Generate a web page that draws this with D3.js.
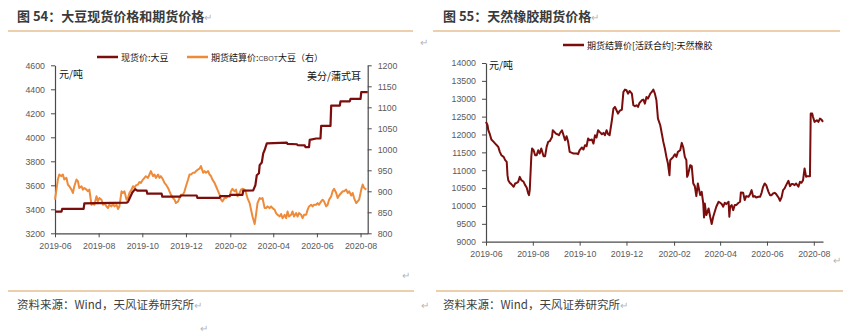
<!DOCTYPE html>
<html><head><meta charset="utf-8">
<script src="https://cdn.jsdelivr.net/npm/d3@7"></script>
<style>
body{margin:0;background:#fff;}
svg{display:block;}
text{font-family:"Noto Sans CJK SC","Liberation Sans",sans-serif;}
.tick text{font-family:"Liberation Sans","Noto Sans CJK SC",sans-serif;}
</style></head><body>
<svg id="c" width="867" height="336"></svg>
<script>
// ---------------- data ----------------
const xTickLabels = ["2019-06","2019-08","2019-10","2019-12","2020-02","2020-04","2020-06","2020-08"];
const soyLeftTicks = [3200,3400,3600,3800,4000,4200,4400,4600];
const soyRightTicks = [800,850,900,950,1000,1050,1100,1150,1200];
const rubberTicks = [9000,9500,10000,10500,11000,11500,12000,12500,13000,13500,14000];

// 现货价:大豆 (days since 2019-06-01)
const spotDay = [0,9,10,40,41,100,102,105,108,112,115,128,129,149,150,175,176,198,199,230,231,244,245,262,263,277,280,282,285,286,289,291,293,296,324,325,338,339,349,350,355,356,365,371,372,385,386,398,399,412,413,427,428,437];
const spotPrice = [3380,3380,3403,3403,3450,3455,3462,3500,3540,3568,3555,3555,3530,3530,3505,3505,3515,3515,3495,3495,3510,3510,3520,3520,3555,3558,3600,3684,3700,3768,3790,3866,3894,3950,3956,3945,3942,3935,3932,3918,3918,3978,3990,3990,4095,4095,4264,4264,4300,4300,4320,4320,4376,4376];

// 期货结算价:CBOT大豆, sampled evenly from 2019-06-01 to 2020-08-10
const cbotFirstDay = 0, cbotLastDay = 435;
const cbotPrice = [880,904,928,940,936,940,928,932,916,912,904,896,912,928,924,908,912,904,908,904,900,904,868,872,868,888,876,884,880,868,872,864,860,868,864,872,864,868,858,864,900,896,900,880,884,896,904,912,908,914,916,922,920,928,932,936,932,940,948,936,940,932,940,932,936,928,920,916,908,900,892,884,880,872,876,884,892,892,900,912,928,940,940,944,944,948,952,954,960,944,948,944,948,940,936,928,920,912,904,892,880,876,884,884,888,888,900,906,900,904,888,896,904,906,904,896,884,872,856,840,822,845,872,884,882,884,860,860,864,860,864,860,856,848,844,840,846,836,844,836,852,840,844,852,840,848,840,848,844,836,844,844,856,864,868,864,868,868,872,868,876,880,876,864,868,880,888,900,906,896,884,890,896,900,900,904,896,900,890,896,884,872,876,880,904,916,908,904];

// 期货结算价[活跃合约]:天然橡胶 (days since 2019-06-01)
const rubberDay = [0,2,3,5,7,10,12,14,16,18,20,23,25,27,28,29,31,33,36,38,40,42,44,46,49,51,53,55,56,57,59,60,62,64,66,68,70,72,75,77,79,81,83,86,87,89,91,93,95,96,99,101,103,105,107,109,112,114,116,118,120,122,125,127,129,131,133,135,138,140,142,144,146,148,151,153,155,157,159,161,164,166,168,170,172,174,177,179,181,183,185,187,190,192,194,196,198,200,203,205,207,209,211,214,216,218,220,222,224,227,229,231,233,235,237,239,240,242,244,246,248,250,253,255,257,259,261,262,263,266,268,270,272,274,276,279,281,283,284,285,287,290,292,294,296,298,300,303,305,307,309,311,313,316,317,318,320,322,324,326,329,331,332,335,337,339,342,344,346,348,350,352,355,357,359,361,363,365,368,370,372,374,376,378,381,383,385,387,389,391,394,396,398,400,402,404,407,409,411,413,415,417,418,420,422,423,425,426,428,431,433,435,437,439];
const rubberPrice = [12352,12259,12119,12007,11858,11793,11746,11700,11653,11514,11420,11374,11281,11234,10862,10722,10648,10611,10536,10629,10648,10676,10815,10722,10676,10583,10518,10350,10303,10443,11374,11607,11560,11420,11420,11560,11467,11607,11393,11393,11653,11793,11812,11932,12119,12072,12026,12007,11979,12026,12119,11979,11840,11951,11793,11514,11486,11467,11467,11467,11448,11560,11635,11579,11700,11672,11886,11840,11858,11746,11979,11914,12119,12072,12007,12044,11979,12119,12007,11979,12398,12724,12771,12677,12584,12658,12696,13190,13255,13237,13143,13218,13143,12817,12789,12817,12771,12882,12957,12975,12864,13050,13004,13143,13190,13255,13143,12957,12445,12259,12026,11793,11607,11374,11188,10862,11281,11327,11374,11448,11374,11514,11560,11765,11635,11374,11281,10815,10862,11141,11113,10629,10555,10275,10629,10303,10396,10071,9680,10071,9745,9931,9698,9493,9698,9838,9978,10117,10089,10052,9978,10089,10052,10117,9698,9978,10024,9884,10024,10024,10089,10117,10378,10368,10164,10275,10257,10331,10443,10257,10275,10238,10257,10257,10368,10536,10629,10583,10396,10303,10303,10350,10368,10331,10238,10145,10238,10443,10490,10583,10704,10555,10611,10611,10583,10629,10536,10676,10648,10722,11048,10815,10834,10834,10834,12584,12584,12491,12352,12398,12352,12445,12417,12352];

// ---------------- drawing ----------------
const svg = d3.select("#c");
const base = new Date(2019, 5, 1);
const dayToDate = d => d3.timeDay.offset(base, d);
const parseMonth = d3.timeParse("%Y-%m");
const tickDates = xTickLabels.map(parseMonth);

const C_RED = "#7b0d0d", C_ORANGE = "#ee8b3a", C_AXIS = "#4a4a4a", C_TICK = "#5a5a5a";
const C_RULE = "#d9a05b";

function styleAxis(g){
  g.select(".domain").attr("stroke", C_AXIS).attr("stroke-width", 1.2);
  g.selectAll(".tick line").attr("stroke", C_AXIS).attr("stroke-width", 1);
  g.selectAll(".tick text").attr("fill", C_TICK).attr("font-size", 8.8);
}

// ---- titles, rules, footer
function title(x, txt){
  const t = svg.append("text").attr("x", x).attr("y", 21)
    .attr("font-size", 13).attr("font-weight", "bold").attr("fill", "#3a3a3a").text(txt);
  t.append("tspan").attr("font-weight","normal").attr("font-size", 10).attr("fill","#b5b5b5").text("↵");
}
title(17, "图 54：大豆现货价格和期货价格");
title(443, "图 55：天然橡胶期货价格");
svg.append("line").attr("x1",8).attr("x2",413).attr("y1",31).attr("y2",31).attr("stroke",C_RULE).attr("stroke-width",1.2);
svg.append("line").attr("x1",433).attr("x2",840).attr("y1",31).attr("y2",31).attr("stroke",C_RULE).attr("stroke-width",1.2);
svg.append("line").attr("x1",8).attr("x2",414).attr("y1",291).attr("y2",291).attr("stroke",C_RULE).attr("stroke-width",1.2);
svg.append("line").attr("x1",436).attr("x2",843).attr("y1",291).attr("y2",291).attr("stroke",C_RULE).attr("stroke-width",1.2);
function footer(x){
  const t = svg.append("text").attr("x", x).attr("y", 309).attr("font-size", 11.5).attr("fill", "#404040")
    .text("资料来源：Wind，天风证券研究所");
  t.append("tspan").attr("font-size", 10).attr("fill","#b5b5b5").text("↵");
}
footer(17); footer(443);
function ret(x, y){ svg.append("text").attr("x",x).attr("y",y).attr("font-size",10).attr("fill","#b5b5b5").text("↵"); }
ret(420, 46); ret(402, 279); ret(833, 264); ret(421, 309); ret(200, 332);

// ---- left chart
const xL = d3.scaleTime().domain([base, dayToDate(437)]).range([55, 367.7]);
const yL = d3.scaleLinear().domain([3200, 4600]).range([233.3, 65.3]);
const yR = d3.scaleLinear().domain([800, 1200]).range([233.3, 65.3]);

svg.append("g").attr("transform","translate(55,0)")
  .call(d3.axisLeft(yL).tickValues(soyLeftTicks).tickSizeInner(4).tickSizeOuter(0).tickPadding(6).tickFormat(d3.format("d")))
  .call(styleAxis);
svg.append("g").attr("transform","translate(367.7,0)")
  .call(d3.axisRight(yR).tickValues(soyRightTicks).tickSizeInner(4).tickSizeOuter(0).tickPadding(6).tickFormat(d3.format("d")))
  .call(styleAxis);
svg.append("g").attr("transform","translate(0,233.3)")
  .call(d3.axisBottom(xL).tickValues(tickDates).tickSizeInner(4).tickSizeOuter(0).tickPadding(5).tickFormat(d3.timeFormat("%Y-%m")))
  .call(styleAxis);

const spotData = spotDay.map((d,i)=>({date: dayToDate(d), v: spotPrice[i]}));
const cbotData = cbotPrice.map((v,i)=>({date: dayToDate(cbotFirstDay + i*(cbotLastDay-cbotFirstDay)/(cbotPrice.length-1)), v}));

svg.append("path").datum(cbotData)
  .attr("fill","none").attr("stroke",C_ORANGE).attr("stroke-width",2).attr("stroke-linejoin","round")
  .attr("d", d3.line().x(d=>xL(d.date)).y(d=>yR(d.v)));
svg.append("path").datum(spotData)
  .attr("fill","none").attr("stroke",C_RED).attr("stroke-width",2.2).attr("stroke-linejoin","round")
  .attr("d", d3.line().x(d=>xL(d.date)).y(d=>yL(d.v)));

svg.append("text").attr("x",59).attr("y",78).attr("font-size",10).attr("fill","#111").text("元/吨");
svg.append("text").attr("x",307).attr("y",80).attr("font-size",10).attr("fill","#111").text("美分/蒲式耳");

// legend left
svg.append("line").attr("x1",97).attr("x2",118).attr("y1",57).attr("y2",57).attr("stroke",C_RED).attr("stroke-width",2.5);
svg.append("text").attr("x",121).attr("y",60.5).attr("font-size",9).attr("fill","#111").text("现货价:大豆");
svg.append("line").attr("x1",187).attr("x2",208).attr("y1",57).attr("y2",57).attr("stroke",C_ORANGE).attr("stroke-width",2.5);
const lg2 = svg.append("text").attr("x",211).attr("y",60.5).attr("font-size",9).attr("fill","#111");
lg2.append("tspan").text("期货结算价:");
lg2.append("tspan").attr("font-size",7).attr("fill","#444").attr("font-family","Liberation Sans").text("CBOT");
lg2.append("tspan").text("大豆（右）");

// ---- right chart
const xR2 = d3.scaleTime().domain([base, dayToDate(439)]).range([486, 823]);
const yRub = d3.scaleLinear().domain([9000, 14000]).range([241.7, 63]);

svg.append("g").attr("transform","translate(486,0)")
  .call(d3.axisLeft(yRub).tickValues(rubberTicks).tickSizeInner(4).tickSizeOuter(0).tickPadding(6).tickFormat(d3.format("d")))
  .call(styleAxis);
svg.append("g").attr("transform","translate(0,241.7)")
  .call(d3.axisBottom(xR2).tickValues(tickDates).tickSizeInner(4).tickSizeOuter(0).tickPadding(5).tickFormat(d3.timeFormat("%Y-%m")))
  .call(styleAxis);

const rubberData = rubberDay.map((d,i)=>({date: dayToDate(d), v: rubberPrice[i]}));
svg.append("path").datum(rubberData)
  .attr("fill","none").attr("stroke",C_RED).attr("stroke-width",2).attr("stroke-linejoin","round")
  .attr("d", d3.line().x(d=>xR2(d.date)).y(d=>yRub(d.v)));

svg.append("text").attr("x",489).attr("y",69).attr("font-size",10).attr("fill","#111").text("元/吨");

svg.append("line").attr("x1",563).attr("x2",584).attr("y1",45).attr("y2",45).attr("stroke",C_RED).attr("stroke-width",2.5);
svg.append("text").attr("x",587).attr("y",48.5).attr("font-size",9).attr("fill","#111").text("期货结算价[活跃合约]:天然橡胶");
</script>
</body></html>
